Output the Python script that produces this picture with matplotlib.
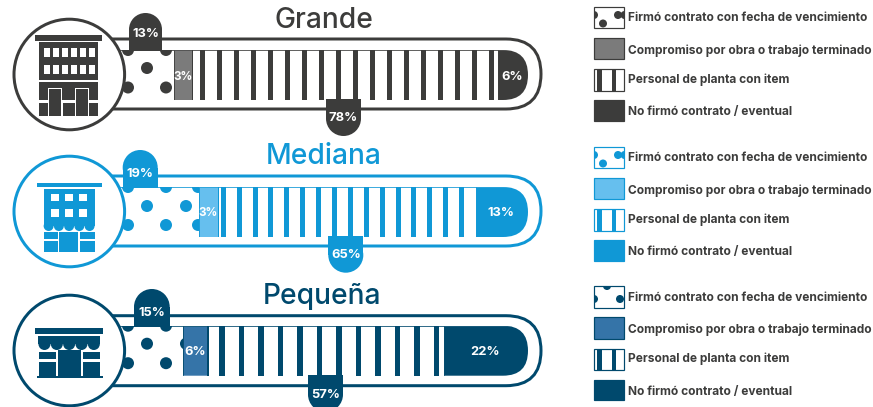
import matplotlib
matplotlib.use("Agg")
import matplotlib.pyplot as plt
from matplotlib.patches import Rectangle, Circle, FancyBboxPatch

# data, the pct labels are what is printed, the drawn shares were read off the
# picture (the original bars are not quite to scale)
categories = ["Grande", "Mediana", "Pequeña"]
legend_labels = ["Firmó contrato con fecha de vencimiento",
                 "Compromiso por obra o trabajo terminado",
                 "Personal de planta con item",
                 "No firmó contrato / eventual"]
grande_pct = [13, 3, 78, 6]
mediana_pct = [19, 3, 65, 13]
pequena_pct = [15, 6, 57, 22]
grande_drawn = [13.7, 4.4, 74.6, 7.3]
mediana_drawn = [19.8, 4.5, 62.9, 12.8]
pequena_drawn = [15.8, 5.9, 57.7, 20.6]

# layout of each row
rows = [
    dict(name=categories[0], pct=grande_pct, drawn=grande_drawn, dark="#3c3c3b", mid="#7b7b7b",
         bar_top=50, pill_top=39, cy=74.5, title_x=323.5, title_y=21, leg_dy=0, icon_off=0,
         tab1=(129, 162, 13), tab3=(326, 361, 136), lab1=34, lab3=118, start_w=0.5,
         stripe0=199.5, period=17.0, stripe_w=5, dots=[(128, 0), (166, 0), (147, 18), (128, 37.5), (166, 37.5)],
         leg_dots=[(603, 23.5), (618, 15), (594, 15), (624.5, 15)]),
    dict(name=categories[1], pct=mediana_pct, drawn=mediana_drawn, dark="#1098d6", mid="#66bfee",
         bar_top=187, pill_top=176, cy=211.5, title_x=323.5, title_y=157, leg_dy=140, icon_off=140,
         tab1=(122.7, 157.7, 150), tab3=(328.3, 363.3, 272.7), lab1=174, lab3=255.5, start_w=1,
         stripe0=220.7, period=15.9, stripe_w=5,
         dots=[(128, 0), (166, 0), (198, 0), (147, 19), (186, 19), (128, 38), (166, 38), (198, 38)],
         leg_dots=[(603, 23.5), (618, 15), (594, 15), (624.5, 15)]),
    dict(name=categories[2], pct=pequena_pct, drawn=pequena_drawn, dark="#00496d", mid="#3574a8",
         bar_top=325.7, pill_top=315.7, cy=350.5, title_x=322, title_y=296, leg_dy=279.5, icon_off=275,
         tab1=(134, 169.7, 289), tab3=(308, 343, 412), lab1=313, lab3=394.5, start_w=2,
         stripe0=219.3, period=19.5, stripe_w=5.3,
         dots=[(128, 0), (166, 0), (147, 18), (186, 18), (128, 37.5), (166, 37.5)],
         leg_dots=[(607, 6.5), (594, 19.5), (620, 19.5)]),
]

BAR_X0 = 118
BAR_X1 = 528
BAR_H = 50
PILL_H = 70
PX = 0.72  # one pixel in points at dpi 100
FONT = "Inter"

fig = plt.figure(figsize=(8.73, 4.07), dpi=100)
ax = fig.add_axes([0, 0, 1, 1])
ax.set_xlim(0, 873)
ax.set_ylim(407, 0)
ax.axis("off")


def rect(x0, y0, x1, y1, color, z=8):
    ax.add_patch(Rectangle((x0, y0), x1 - x0, y1 - y0, facecolor=color, edgecolor="none", zorder=z))


def tab(x0, x1, y_flat, y_round, color):
    # tab with one round end
    r = (x1 - x0) / 2
    sign = 1 if y_round > y_flat else -1
    ax.add_patch(Circle(((x0 + x1) / 2, y_round - sign * r), r, facecolor=color, edgecolor="none", zorder=6))
    rect(x0, y_flat, x1, y_round - sign * r, color, z=6)


def scallops(x0, x1, y0, y1, n, color):
    w = (x1 - x0) / n
    r = w / 2 - 0.15
    yb = max(y0, y1 - r)
    rect(x0, y0, x1, yb, color)
    for k in range(n):
        ax.add_patch(Circle((x0 + w * (k + 0.5), yb), r, facecolor=color, edgecolor="none", zorder=8))


def icon_grande(c, off):
    rect(35, off + 35, 102.3, off + 40.7, c)
    rect(39.3, off + 42.3, 98.3, off + 80, c)
    for k in range(6):
        wx = 43.7 + 9 * k
        rect(wx, off + 47.7, wx + 6, off + 56.7, "white", z=9)
        rect(wx, off + 65, wx + 6, off + 74, "white", z=9)
    rect(39.3, off + 81.7, 98, off + 100.5, c)
    rect(39.3, off + 102.7, 47.7, off + 115.7, c)
    rect(62.7, off + 102.7, 74.7, off + 115.7, c)
    rect(89.3, off + 102.7, 98, off + 115.7, c)
    for dx in (48.3, 75.3):
        rect(dx, off + 88, dx + 13.5, off + 115.7, "white", z=9)
        rect(dx + 1, off + 89, dx + 12.5, off + 115.7, c, z=10)


def icon_mediana(c, off):
    rect(36.7, off + 43.3, 101.7, off + 47.3, c)
    rect(44, off + 49, 94.7, off + 81.7, c)
    for wx in (50.7, 64.7, 78.7):
        rect(wx, off + 53.7, wx + 8.6, off + 61.3, "white", z=9)
        rect(wx, off + 69, wx + 8.6, off + 76.7, "white", z=9)
    scallops(43.5, 94.7, off + 82.3, off + 91, 5, c)
    rect(44, off + 92, 57.7, off + 99.3, c)
    rect(80, off + 92, 94.7, off + 99.3, c)
    rect(59.3, off + 91.5, 78.3, off + 111.7, c)
    rect(44, off + 100.7, 57.7, off + 111.7, c)
    rect(80, off + 100.7, 94.7, off + 111.7, c)


def icon_pequena(c, off):
    rect(35, off + 53.3, 102.7, off + 59.3, c)
    scallops(38.3, 100, off + 61, off + 75, 5, c)
    rect(38.7, off + 76.7, 56, off + 84.3, c)
    rect(82.7, off + 76.7, 100, off + 84.3, c)
    rect(38.7, off + 86.7, 56, off + 100.7, c)
    rect(82.7, off + 86.7, 100, off + 100.7, c)
    rect(58.3, off + 75, 80.7, off + 100.7, c)
    rect(37.3, off + 100.7, 102.7, off + 102.7, c)


icons = [icon_grande, icon_mediana, icon_pequena]

for row, icon in zip(rows, icons):
    dark = row["dark"]
    mid = row["mid"]
    top = row["bar_top"]
    bottom = top + BAR_H
    yc = top + BAR_H / 2

    # outer pill outline
    ax.add_patch(FancyBboxPatch((40, row["pill_top"]), 501, PILL_H, boxstyle="round,pad=0,rounding_size=35",
                                facecolor="white", edgecolor=dark, lw=3 * PX, zorder=1))

    # inner bar, clipped to a round right end
    clip = FancyBboxPatch((60, top), BAR_X1 - 60, BAR_H, boxstyle="round,pad=0,rounding_size=25",
                          facecolor="none", edgecolor="none", zorder=0)
    ax.add_patch(clip)
    scale = (BAR_X1 - BAR_X0) / sum(row["drawn"])
    widths = [v * scale for v in row["drawn"]]
    lefts = [BAR_X0 + sum(widths[:i]) for i in range(4)]
    bars = ax.barh([yc] * 4, widths, left=lefts, height=BAR_H, color=["white", mid, "white", dark],
                   edgecolor=dark, linewidth=0.8 * PX, zorder=2)
    for b in bars:
        b.set_clip_path(clip)

    # dots of the first segment
    seg = Rectangle((lefts[0], top), widths[0], BAR_H, facecolor="none", edgecolor="none")
    ax.add_patch(seg)
    for dx, dy in row["dots"]:
        d = Circle((dx, top + dy), 6, facecolor=dark, edgecolor="none", zorder=3)
        ax.add_patch(d)
        d.set_clip_path(seg)

    # stripes of the third segment
    x = row["stripe0"]
    while x + row["stripe_w"] < lefts[3] - 2:
        ax.add_patch(Rectangle((x, top), row["stripe_w"], BAR_H, facecolor=dark, edgecolor="none", zorder=3))
        x += row["period"]
    rect(lefts[2], top, lefts[2] + row["start_w"], bottom, dark, z=3)

    # tabs
    t1 = row["tab1"]
    tab(t1[0], t1[1], top + 1, t1[2], dark)
    t3 = row["tab3"]
    tab(t3[0], t3[1], bottom - 1, t3[2], dark)

    # circle with the icon
    ax.add_patch(Circle((69.3, row["cy"]), 55.3, facecolor="white", edgecolor=dark, lw=3 * PX, zorder=7))
    icon(dark, row["icon_off"])

    # percent labels
    lab = dict(color="white", fontsize=9.3, fontweight="bold", family=FONT, ha="center", va="center", zorder=12)
    ax.text((t1[0] + t1[1]) / 2, row["lab1"], f"{row['pct'][0]}%", **lab)
    small = 8.4 if row["pct"][1] < 5 else 9.3
    ax.text(lefts[1] + widths[1] / 2, yc + 1.5, f"{row['pct'][1]}%", **{**lab, "fontsize": small})
    ax.text((t3[0] + t3[1]) / 2, row["lab3"], f"{row['pct'][2]}%", **lab)
    ax.text(lefts[3] + widths[3] / 2 - 1, yc + 1.5, f"{row['pct'][3]}%", **lab)

    # title
    ax.text(row["title_x"], row["title_y"], row["name"], color=dark, fontsize=20.3, family=FONT, fontweight="medium",
            ha="center", va="center", zorder=12)

    # legend
    dy = row["leg_dy"]
    sw = [(6.7, 28), (37.7, 59.3), (69, 90.7), (100, 120.7)]
    sx0, sx1 = 594, 624.3
    ly = [18.2, 50.5, 79.7, 112.2]
    fills = ["white", mid, "white", dark]
    for i in range(4):
        s = Rectangle((sx0, sw[i][0] + dy), sx1 - sx0, sw[i][1] - sw[i][0], facecolor=fills[i],
                      edgecolor=dark, lw=1.2 * PX, zorder=2)
        ax.add_patch(s)
        if i == 0:
            for lx, lyy in row["leg_dots"]:
                d = Circle((lx, lyy + dy), 4, facecolor=dark, edgecolor="none", zorder=3)
                ax.add_patch(d)
                d.set_clip_path(s)
        if i == 2:
            for lx in (597, 611.7):
                rect(lx, sw[i][0] + dy, lx + 4.5, sw[i][1] + dy, dark, z=3)
        ax.text(628.3, ly[i] + dy, legend_labels[i], color="#3c3c3b", fontsize=8.6, fontweight="bold", family=FONT,
                ha="left", va="center", zorder=12)

fig.savefig("out.png", dpi=100)
